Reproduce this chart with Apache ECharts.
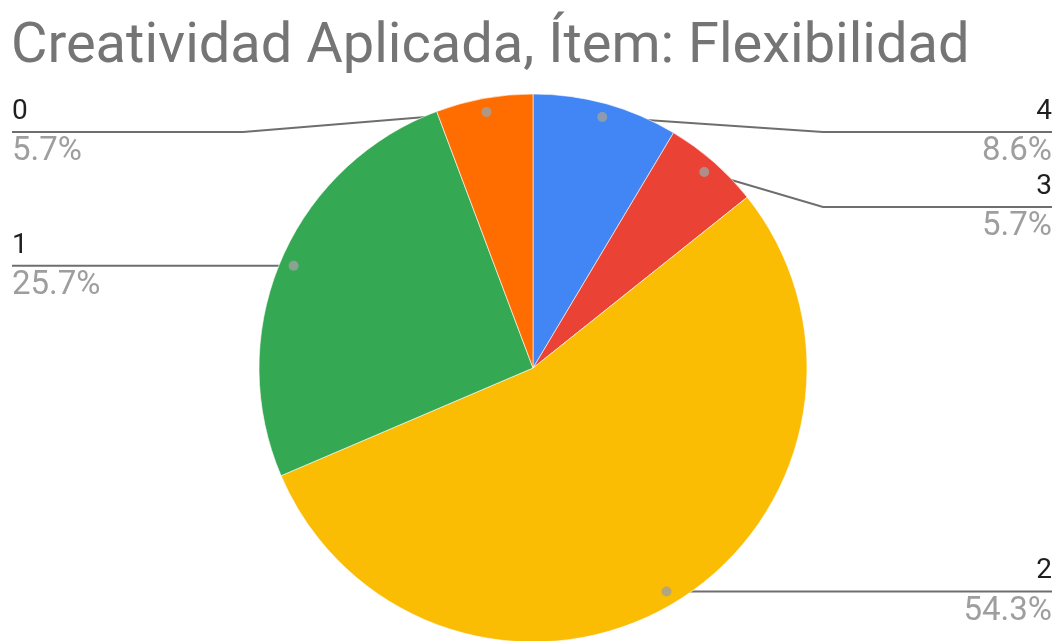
<!DOCTYPE html>
<html>
<head>
<meta charset="utf-8">
<style>
  html, body { margin: 0; padding: 0; background: #ffffff; }
  #chart { width: 1062px; height: 641px; }
</style>
<script src="https://cdn.jsdelivr.net/npm/echarts@6/dist/echarts.min.js"></script>
</head>
<body>
<div id="chart"></div>
<script>
// Responses per score, clockwise from 12 o'clock
const categories = ['4', '3', '2', '1', '0'];
const counts = [3, 2, 19, 9, 2];

const sliceColors = ['#4285f4', '#ea4335', '#fbbc04', '#34a853', '#ff6d01'];

// Pie geometry
const CX = 533, CY = 368, R = 274;
const DOT_RATIO = 0.95;          // leader dots sit just inside the rim
const BEND_GAP = 16;             // elbow distance outside the rim
const LABEL_MIN_Y = 132;         // labels stay below the title
const LABEL_GAP = 75;            // vertical spacing between stacked labels
const LEFT_X = 12, RIGHT_X = 1052;

const total = counts.reduce((a, b) => a + b, 0);
const midValues = [];
(function () {
  let acc = 0;
  counts.forEach(v => { midValues.push(acc + v / 2); acc += v; });
})();

function dotPoint(i) {
  const a = midValues[i] / total * 2 * Math.PI;
  return [CX + R * DOT_RATIO * Math.sin(a), CY - R * DOT_RATIO * Math.cos(a)];
}

// Stack labels on each side so they never overlap
const labelY = [];
const labelSide = [];
(function () {
  const sides = { left: [], right: [] };
  counts.forEach((v, i) => {
    const a = midValues[i] / total * 2 * Math.PI;
    const side = Math.sin(a) >= 0 ? 'right' : 'left';
    labelSide[i] = side;
    sides[side].push(i);
  });
  Object.keys(sides).forEach(k => {
    const idx = sides[k].slice().sort((p, q) => dotPoint(p)[1] - dotPoint(q)[1]);
    let prev = -Infinity;
    idx.forEach(i => {
      const y = Math.max(dotPoint(i)[1], prev + LABEL_GAP, LABEL_MIN_Y);
      labelY[i] = y;
      prev = y;
    });
  });
})();

const chart = echarts.init(document.getElementById('chart'), null, { renderer: 'canvas' });

chart.setOption({
  animation: false,
  backgroundColor: '#ffffff',
  title: {
    text: 'Creatividad Aplicada, Ítem: Flexibilidad',
    left: 6,
    top: 15,
    textStyle: {
      fontFamily: 'Roboto',
      fontSize: 56,
      fontWeight: 'normal',
      color: '#757575'
    }
  },
  polar: { center: [CX, CY], radius: R },
  angleAxis: { type: 'value', min: 0, max: total, startAngle: 90, clockwise: true, show: false },
  radiusAxis: { type: 'value', min: 0, max: 1, show: false },
  series: [
    {
      type: 'pie',
      center: [CX, CY],
      radius: R,
      startAngle: 90,
      clockwise: true,
      percentPrecision: 1,
      avoidLabelOverlap: false,
      data: categories.map((c, i) => ({
        name: c,
        value: counts[i],
        itemStyle: { color: sliceColors[i] }
      })),
      itemStyle: { borderColor: '#ffffff', borderWidth: 0.6 },
      emphasis: { disabled: true },
      label: {
        show: true,
        position: 'outside',
        fontFamily: 'Roboto',
        formatter: p => '{n|' + p.name + '}\n{p|' + p.percent.toFixed(1) + '%}',
        rich: {
          n: { fontFamily: 'Roboto', fontSize: 28, color: '#1f1f1f', lineHeight: 40 },
          p: { fontFamily: 'Roboto', fontSize: 33, color: '#9e9e9e', lineHeight: 40 }
        }
      },
      labelLine: {
        show: true,
        lineStyle: { color: '#6e6e6e', width: 2 }
      },
      labelLayout: function (params) {
        const i = params.dataIndex;
        const side = labelSide[i];
        const y = labelY[i];
        const dot = dotPoint(i);
        const bendX = side === 'right' ? CX + R + BEND_GAP : CX - R - BEND_GAP;
        const endX = side === 'right' ? RIGHT_X : LEFT_X;
        return {
          x: endX,
          y: y,
          align: side === 'right' ? 'right' : 'left',
          verticalAlign: 'middle',
          labelLinePoints: [dot, [bendX, y], [endX, y]]
        };
      }
    },
    {
      // leader-line anchor dots
      type: 'scatter',
      coordinateSystem: 'polar',
      z: 5,
      symbol: 'circle',
      symbolSize: 10,
      itemStyle: { color: '#a0a0a0' },
      silent: true,
      data: midValues.map(m => [DOT_RATIO, m])
    }
  ]
});
</script>
</body>
</html>
